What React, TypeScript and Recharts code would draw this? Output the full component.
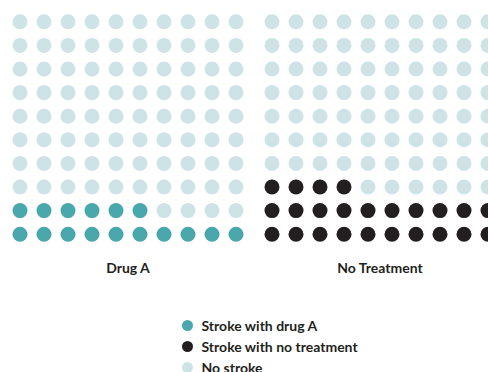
import React from "react";
import { ScatterChart, Scatter, XAxis, YAxis, Legend } from "recharts";

// Two 10x10 icon grids: 100 patients per group
const groups = ["Drug A", "No Treatment"];
const strokes = [16, 24];
const perGroup = 100;
const columns = 10;
const groupStart = [0, 10.5];

const seriesNames = ["Stroke with drug A", "Stroke with no treatment", "No stroke"];
const seriesColors = ["#4aa7ac", "#231f20", "#cde3e6"];

const TEXT = "#231f20";
const FONT = "Lato, 'Open Sans', sans-serif";

type Cell = { x: number; y: number };

// Fill each grid from the bottom-left corner, row by row
function buildCells() {
  const drug: Cell[] = [];
  const none: Cell[] = [];
  const healthy: Cell[] = [];
  groups.forEach((_, g) => {
    for (let k = 0; k < perGroup; k++) {
      const cell = { x: groupStart[g] + (k % columns), y: Math.floor(k / columns) };
      if (k < strokes[g]) (g === 0 ? drug : none).push(cell);
      else healthy.push(cell);
    }
  });
  return [drug, none, healthy];
}

const cellSets = buildCells();
const groupCenters = groups.map((_, g) => groupStart[g] + (columns - 1) / 2);

const Dot = (color: string) => (props: any) => (
  <circle cx={props.cx} cy={props.cy} r={7.5} fill={color} />
);

const LegendContent = () => (
  <div style={{ fontFamily: FONT, fontWeight: 700, fontSize: 14, color: TEXT }}>
    {seriesNames.map((name, i) => (
      <div key={name} style={{ display: "flex", alignItems: "center", height: 21 }}>
        <span
          style={{
            display: "inline-block",
            width: 11,
            height: 11,
            borderRadius: "50%",
            background: seriesColors[i],
            marginRight: 9,
          }}
        />
        <span>{name}</span>
      </div>
    ))}
  </div>
);

export default function App() {
  return (
    <div style={{ position: "absolute", left: 0, top: 0, width: 488, height: 372, overflow: "hidden", background: "#fff" }}>
      <ScatterChart width={500} height={372} margin={{ top: 10, right: 0, bottom: 96, left: 8 }}>
        <XAxis
          type="number"
          dataKey="x"
          domain={[-0.5, 20]}
          ticks={groupCenters}
          tickFormatter={(v: number) => groups[groupCenters.indexOf(v)] ?? ""}
          axisLine={false}
          tickLine={false}
          tickMargin={11}
          height={30}
          interval={0}
          tick={{ fill: TEXT, fontFamily: FONT, fontWeight: 700, fontSize: 14 }}
        />
        <YAxis type="number" dataKey="y" domain={[-0.5, 9.5]} hide />
        {cellSets.map((cells, i) => (
          <Scatter
            key={seriesNames[i]}
            name={seriesNames[i]}
            data={cells}
            fill={seriesColors[i]}
            shape={Dot(seriesColors[i])}
            isAnimationActive={false}
          />
        ))}
        <Legend
          layout="vertical"
          align="center"
          verticalAlign="middle"
          content={<LegendContent />}
          wrapperStyle={{ left: 181.5, top: 314.5, width: "auto" }}
        />
      </ScatterChart>
    </div>
  );
}
